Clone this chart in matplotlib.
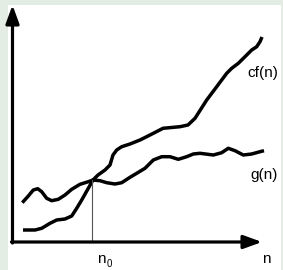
import matplotlib.pyplot as plt
from matplotlib.patches import Rectangle

# positions, x to the right, y upward (picture height 270)
cf_x = [23, 35, 41.7, 50, 56.7, 65, 71.7, 76.7, 81.7, 88.3, 93, 98, 105, 110,
        113, 116.7, 121.7, 130, 140, 150, 163, 180, 188, 195, 206.7, 216.7,
        226.7, 231.7, 238.3, 245, 251.7, 256.7, 260, 262]
cf_y = [40, 40, 41.7, 46.7, 50, 51, 54, 61.7, 70, 81.7, 90, 95, 100, 105,
        115, 120, 123.3, 126, 130, 135, 141.7, 143.3, 145, 151.7, 170, 183.3,
        196.7, 201.7, 206.7, 213.3, 220, 223.3, 228.3, 233]

g_x = [22.3, 28.3, 33.3, 37.7, 41.7, 46.7, 51.7, 58.3, 65, 71.7, 80, 88.3, 93,
       100, 106.7, 115, 121.7, 130, 136.7, 145, 153.3, 161.7, 170, 178.3,
       186.7, 193.3, 200, 213.3, 221.7, 228.3, 235, 243.3, 251.7, 260, 264]
g_y = [67.3, 74, 80, 81.3, 78.3, 71.7, 69.3, 70.7, 75, 80.7, 85.7, 88.3, 90,
       89.3, 87.3, 86, 87.3, 92.7, 96.7, 101.7, 110, 113.3, 113.3, 110.7,
       113.3, 116, 116.7, 115, 117.3, 121.7, 119.3, 115, 116, 118.3, 119.3]

n0 = 92
labels = ["cf(n)", "g(n)", "n", "n", "0"]

fig = plt.figure(figsize=(2.83, 2.70), dpi=100)
fig.patch.set_facecolor("#e3ede3")
ax = fig.add_axes([0, 0, 1, 1])
ax.set_xlim(0, 283)
ax.set_ylim(0, 270)
ax.axis("off")
ax.add_patch(Rectangle((8, 0), 273, 265, facecolor="white", edgecolor="none", zorder=0))

ax.plot(cf_x, cf_y, color="black", lw=2.5, solid_capstyle="butt", solid_joinstyle="round")
ax.plot(g_x, g_y, color="black", lw=2.5, solid_capstyle="butt", solid_joinstyle="round")

# n0 marker
ax.plot([n0, n0], [28, 90], color="#555555", lw=0.8)

# axes with arrows
arrow = dict(arrowstyle="-|>,head_length=0.55,head_width=0.2", lw=2.3, color="black",
             mutation_scale=20, shrinkA=0, shrinkB=0)
ax.annotate("", xy=(262, 28), xytext=(11.5, 28), arrowprops=arrow)
ax.annotate("", xy=(12.5, 265), xytext=(12.5, 27), arrowprops=arrow)

font = dict(family="Liberation Sans", va="center", ha="left")
ax.text(247, 197, labels[0], fontsize=11, **font)
ax.text(250, 95, labels[1], fontsize=11, **font)
ax.text(262, 11, labels[2], fontsize=11, **font)
ax.text(97, 11, labels[3], fontsize=11, **font)
ax.text(106.5, 6, labels[4], fontsize=7, **font)

fig.savefig("out.png", dpi=100, facecolor=fig.get_facecolor())
